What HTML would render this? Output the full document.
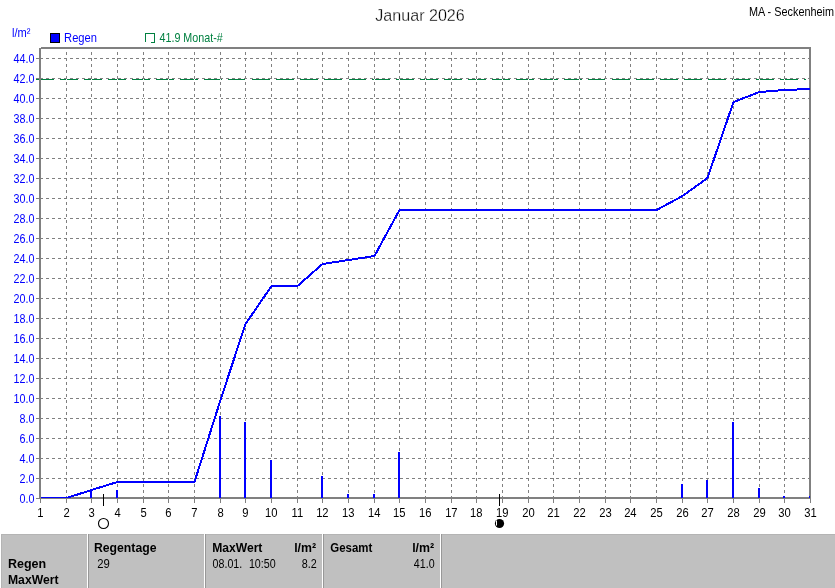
<!DOCTYPE html>
<html lang="de"><head><meta charset="utf-8"><title>Januar 2026 - Regen</title>
<style>
html,body{margin:0;padding:0;background:#fff;}
body{width:835px;height:588px;overflow:hidden;font-family:"Liberation Sans", sans-serif;}
svg text{white-space:pre;}
svg{will-change:transform;}
</style></head><body>
<svg width="835" height="588" viewBox="0 0 835 588" style="display:block">
<rect x="0" y="0" width="835" height="588" fill="#fff"/>
<g fill="#808080" shape-rendering="crispEdges">
<rect x="41" y="47" width="770" height="2"/>
<rect x="809" y="47" width="2" height="452"/>
<rect x="39" y="497" width="772" height="2"/>
</g>
<g stroke="#808080" stroke-width="1" stroke-dasharray="3 3" shape-rendering="crispEdges" fill="none">
<line x1="40" x2="809" y1="478.5" y2="478.5"/>
<line x1="40" x2="809" y1="458.5" y2="458.5"/>
<line x1="40" x2="809" y1="438.5" y2="438.5"/>
<line x1="40" x2="809" y1="418.5" y2="418.5"/>
<line x1="40" x2="809" y1="398.5" y2="398.5"/>
<line x1="40" x2="809" y1="378.5" y2="378.5"/>
<line x1="40" x2="809" y1="358.5" y2="358.5"/>
<line x1="40" x2="809" y1="338.5" y2="338.5"/>
<line x1="40" x2="809" y1="318.5" y2="318.5"/>
<line x1="40" x2="809" y1="298.5" y2="298.5"/>
<line x1="40" x2="809" y1="278.5" y2="278.5"/>
<line x1="40" x2="809" y1="258.5" y2="258.5"/>
<line x1="40" x2="809" y1="238.5" y2="238.5"/>
<line x1="40" x2="809" y1="218.5" y2="218.5"/>
<line x1="40" x2="809" y1="198.5" y2="198.5"/>
<line x1="40" x2="809" y1="178.5" y2="178.5"/>
<line x1="40" x2="809" y1="158.5" y2="158.5"/>
<line x1="40" x2="809" y1="138.5" y2="138.5"/>
<line x1="40" x2="809" y1="118.5" y2="118.5"/>
<line x1="40" x2="809" y1="98.5" y2="98.5"/>
<line x1="40" x2="809" y1="78.5" y2="78.5"/>
<line x1="40" x2="809" y1="58.5" y2="58.5"/>
</g>
<line x1="36" x2="806" y1="79.5" y2="79.5" stroke="#008040" stroke-width="1" stroke-dasharray="18 6" shape-rendering="crispEdges"/>
<g shape-rendering="crispEdges" fill="none" stroke-width="1">
<line x1="66.5" x2="66.5" y1="49" y2="497" stroke="#fff"/>
<line x1="66.5" x2="66.5" y1="52" y2="499" stroke="#808080" stroke-dasharray="3 3"/>
<line x1="91.5" x2="91.5" y1="49" y2="497" stroke="#fff"/>
<line x1="91.5" x2="91.5" y1="52" y2="499" stroke="#808080" stroke-dasharray="3 3"/>
<line x1="117.5" x2="117.5" y1="49" y2="497" stroke="#fff"/>
<line x1="117.5" x2="117.5" y1="52" y2="499" stroke="#808080" stroke-dasharray="3 3"/>
<line x1="143.5" x2="143.5" y1="49" y2="497" stroke="#fff"/>
<line x1="143.5" x2="143.5" y1="52" y2="499" stroke="#808080" stroke-dasharray="3 3"/>
<line x1="168.5" x2="168.5" y1="49" y2="497" stroke="#fff"/>
<line x1="168.5" x2="168.5" y1="52" y2="499" stroke="#808080" stroke-dasharray="3 3"/>
<line x1="194.5" x2="194.5" y1="49" y2="497" stroke="#fff"/>
<line x1="194.5" x2="194.5" y1="52" y2="499" stroke="#808080" stroke-dasharray="3 3"/>
<line x1="220.5" x2="220.5" y1="49" y2="497" stroke="#fff"/>
<line x1="220.5" x2="220.5" y1="52" y2="499" stroke="#808080" stroke-dasharray="3 3"/>
<line x1="245.5" x2="245.5" y1="49" y2="497" stroke="#fff"/>
<line x1="245.5" x2="245.5" y1="52" y2="499" stroke="#808080" stroke-dasharray="3 3"/>
<line x1="271.5" x2="271.5" y1="49" y2="497" stroke="#fff"/>
<line x1="271.5" x2="271.5" y1="52" y2="499" stroke="#808080" stroke-dasharray="3 3"/>
<line x1="297.5" x2="297.5" y1="49" y2="497" stroke="#fff"/>
<line x1="297.5" x2="297.5" y1="52" y2="499" stroke="#808080" stroke-dasharray="3 3"/>
<line x1="322.5" x2="322.5" y1="49" y2="497" stroke="#fff"/>
<line x1="322.5" x2="322.5" y1="52" y2="499" stroke="#808080" stroke-dasharray="3 3"/>
<line x1="348.5" x2="348.5" y1="49" y2="497" stroke="#fff"/>
<line x1="348.5" x2="348.5" y1="52" y2="499" stroke="#808080" stroke-dasharray="3 3"/>
<line x1="374.5" x2="374.5" y1="49" y2="497" stroke="#fff"/>
<line x1="374.5" x2="374.5" y1="52" y2="499" stroke="#808080" stroke-dasharray="3 3"/>
<line x1="399.5" x2="399.5" y1="49" y2="497" stroke="#fff"/>
<line x1="399.5" x2="399.5" y1="52" y2="499" stroke="#808080" stroke-dasharray="3 3"/>
<line x1="425.5" x2="425.5" y1="49" y2="497" stroke="#fff"/>
<line x1="425.5" x2="425.5" y1="52" y2="499" stroke="#808080" stroke-dasharray="3 3"/>
<line x1="451.5" x2="451.5" y1="49" y2="497" stroke="#fff"/>
<line x1="451.5" x2="451.5" y1="52" y2="499" stroke="#808080" stroke-dasharray="3 3"/>
<line x1="476.5" x2="476.5" y1="49" y2="497" stroke="#fff"/>
<line x1="476.5" x2="476.5" y1="52" y2="499" stroke="#808080" stroke-dasharray="3 3"/>
<line x1="502.5" x2="502.5" y1="49" y2="497" stroke="#fff"/>
<line x1="502.5" x2="502.5" y1="52" y2="499" stroke="#808080" stroke-dasharray="3 3"/>
<line x1="528.5" x2="528.5" y1="49" y2="497" stroke="#fff"/>
<line x1="528.5" x2="528.5" y1="52" y2="499" stroke="#808080" stroke-dasharray="3 3"/>
<line x1="553.5" x2="553.5" y1="49" y2="497" stroke="#fff"/>
<line x1="553.5" x2="553.5" y1="52" y2="499" stroke="#808080" stroke-dasharray="3 3"/>
<line x1="579.5" x2="579.5" y1="49" y2="497" stroke="#fff"/>
<line x1="579.5" x2="579.5" y1="52" y2="499" stroke="#808080" stroke-dasharray="3 3"/>
<line x1="605.5" x2="605.5" y1="49" y2="497" stroke="#fff"/>
<line x1="605.5" x2="605.5" y1="52" y2="499" stroke="#808080" stroke-dasharray="3 3"/>
<line x1="630.5" x2="630.5" y1="49" y2="497" stroke="#fff"/>
<line x1="630.5" x2="630.5" y1="52" y2="499" stroke="#808080" stroke-dasharray="3 3"/>
<line x1="656.5" x2="656.5" y1="49" y2="497" stroke="#fff"/>
<line x1="656.5" x2="656.5" y1="52" y2="499" stroke="#808080" stroke-dasharray="3 3"/>
<line x1="682.5" x2="682.5" y1="49" y2="497" stroke="#fff"/>
<line x1="682.5" x2="682.5" y1="52" y2="499" stroke="#808080" stroke-dasharray="3 3"/>
<line x1="707.5" x2="707.5" y1="49" y2="497" stroke="#fff"/>
<line x1="707.5" x2="707.5" y1="52" y2="499" stroke="#808080" stroke-dasharray="3 3"/>
<line x1="733.5" x2="733.5" y1="49" y2="497" stroke="#fff"/>
<line x1="733.5" x2="733.5" y1="52" y2="499" stroke="#808080" stroke-dasharray="3 3"/>
<line x1="759.5" x2="759.5" y1="49" y2="497" stroke="#fff"/>
<line x1="759.5" x2="759.5" y1="52" y2="499" stroke="#808080" stroke-dasharray="3 3"/>
<line x1="784.5" x2="784.5" y1="49" y2="497" stroke="#fff"/>
<line x1="784.5" x2="784.5" y1="52" y2="499" stroke="#808080" stroke-dasharray="3 3"/>
</g>
<g stroke="#0000ff" stroke-width="2" shape-rendering="crispEdges">
<line x1="91" x2="91" y1="490" y2="498"/>
<line x1="117" x2="117" y1="490" y2="498"/>
<line x1="220" x2="220" y1="416" y2="498"/>
<line x1="245" x2="245" y1="422" y2="498"/>
<line x1="271" x2="271" y1="460" y2="498"/>
<line x1="322" x2="322" y1="476" y2="498"/>
<line x1="348" x2="348" y1="494" y2="498"/>
<line x1="374" x2="374" y1="494" y2="498"/>
<line x1="399" x2="399" y1="452" y2="498"/>
<line x1="682" x2="682" y1="484" y2="498"/>
<line x1="707" x2="707" y1="480" y2="498"/>
<line x1="733" x2="733" y1="422" y2="498"/>
<line x1="759" x2="759" y1="488" y2="498"/>
<line x1="784" x2="784" y1="496" y2="498"/>
<line x1="810" x2="810" y1="496" y2="498"/>
</g>
<polyline points="40.5,498 66.5,498 91.5,490 117.5,482 143.5,482 168.5,482 194.5,482 220.5,400 245.5,324 271.5,286 297.5,286 322.5,264 348.5,260 374.5,256 399.5,210 425.5,210 451.5,210 476.5,210 502.5,210 528.5,210 553.5,210 579.5,210 605.5,210 630.5,210 656.5,210 682.5,196 707.5,178 733.5,102 759.5,92 784.5,90 810.5,89" fill="none" stroke="#0000ff" stroke-width="2" shape-rendering="crispEdges" stroke-linejoin="round"/>
<g fill="#808080" shape-rendering="crispEdges">
<rect x="39" y="48" width="2" height="451"/>
<rect x="810" y="47" width="1" height="452"/>
<rect x="36" y="498" width="775" height="1"/>
<rect x="36" y="478" width="3" height="1"/>
<rect x="36" y="458" width="3" height="1"/>
<rect x="36" y="438" width="3" height="1"/>
<rect x="36" y="418" width="3" height="1"/>
<rect x="36" y="398" width="3" height="1"/>
<rect x="36" y="378" width="3" height="1"/>
<rect x="36" y="358" width="3" height="1"/>
<rect x="36" y="338" width="3" height="1"/>
<rect x="36" y="318" width="3" height="1"/>
<rect x="36" y="298" width="3" height="1"/>
<rect x="36" y="278" width="3" height="1"/>
<rect x="36" y="258" width="3" height="1"/>
<rect x="36" y="238" width="3" height="1"/>
<rect x="36" y="218" width="3" height="1"/>
<rect x="36" y="198" width="3" height="1"/>
<rect x="36" y="178" width="3" height="1"/>
<rect x="36" y="158" width="3" height="1"/>
<rect x="36" y="138" width="3" height="1"/>
<rect x="36" y="118" width="3" height="1"/>
<rect x="36" y="98" width="3" height="1"/>
<rect x="36" y="78" width="3" height="1"/>
<rect x="36" y="58" width="3" height="1"/>
<rect x="40" y="499" width="1" height="4"/>
<rect x="66" y="499" width="1" height="4"/>
<rect x="91" y="499" width="1" height="4"/>
<rect x="117" y="499" width="1" height="4"/>
<rect x="143" y="499" width="1" height="4"/>
<rect x="168" y="499" width="1" height="4"/>
<rect x="194" y="499" width="1" height="4"/>
<rect x="220" y="499" width="1" height="4"/>
<rect x="245" y="499" width="1" height="4"/>
<rect x="271" y="499" width="1" height="4"/>
<rect x="297" y="499" width="1" height="4"/>
<rect x="322" y="499" width="1" height="4"/>
<rect x="348" y="499" width="1" height="4"/>
<rect x="374" y="499" width="1" height="4"/>
<rect x="399" y="499" width="1" height="4"/>
<rect x="425" y="499" width="1" height="4"/>
<rect x="451" y="499" width="1" height="4"/>
<rect x="476" y="499" width="1" height="4"/>
<rect x="502" y="499" width="1" height="4"/>
<rect x="528" y="499" width="1" height="4"/>
<rect x="553" y="499" width="1" height="4"/>
<rect x="579" y="499" width="1" height="4"/>
<rect x="605" y="499" width="1" height="4"/>
<rect x="630" y="499" width="1" height="4"/>
<rect x="656" y="499" width="1" height="4"/>
<rect x="682" y="499" width="1" height="4"/>
<rect x="707" y="499" width="1" height="4"/>
<rect x="733" y="499" width="1" height="4"/>
<rect x="759" y="499" width="1" height="4"/>
<rect x="784" y="499" width="1" height="4"/>
<rect x="810" y="499" width="1" height="4"/>
</g>
<text transform="translate(19.53,503) scale(0.8284,1)" font-family='"Liberation Sans", sans-serif' font-size="13" fill="#0000ff" font-weight="normal">0.0</text>
<text transform="translate(19.53,483) scale(0.8284,1)" font-family='"Liberation Sans", sans-serif' font-size="13" fill="#0000ff" font-weight="normal">2.0</text>
<text transform="translate(19.53,463) scale(0.8284,1)" font-family='"Liberation Sans", sans-serif' font-size="13" fill="#0000ff" font-weight="normal">4.0</text>
<text transform="translate(19.53,443) scale(0.8284,1)" font-family='"Liberation Sans", sans-serif' font-size="13" fill="#0000ff" font-weight="normal">6.0</text>
<text transform="translate(19.53,423) scale(0.8284,1)" font-family='"Liberation Sans", sans-serif' font-size="13" fill="#0000ff" font-weight="normal">8.0</text>
<text transform="translate(13.56,403) scale(0.8284,1)" font-family='"Liberation Sans", sans-serif' font-size="13" fill="#0000ff" font-weight="normal">10.0</text>
<text transform="translate(13.56,383) scale(0.8284,1)" font-family='"Liberation Sans", sans-serif' font-size="13" fill="#0000ff" font-weight="normal">12.0</text>
<text transform="translate(13.56,363) scale(0.8284,1)" font-family='"Liberation Sans", sans-serif' font-size="13" fill="#0000ff" font-weight="normal">14.0</text>
<text transform="translate(13.56,343) scale(0.8284,1)" font-family='"Liberation Sans", sans-serif' font-size="13" fill="#0000ff" font-weight="normal">16.0</text>
<text transform="translate(13.56,323) scale(0.8284,1)" font-family='"Liberation Sans", sans-serif' font-size="13" fill="#0000ff" font-weight="normal">18.0</text>
<text transform="translate(13.56,303) scale(0.8284,1)" font-family='"Liberation Sans", sans-serif' font-size="13" fill="#0000ff" font-weight="normal">20.0</text>
<text transform="translate(13.56,283) scale(0.8284,1)" font-family='"Liberation Sans", sans-serif' font-size="13" fill="#0000ff" font-weight="normal">22.0</text>
<text transform="translate(13.56,263) scale(0.8284,1)" font-family='"Liberation Sans", sans-serif' font-size="13" fill="#0000ff" font-weight="normal">24.0</text>
<text transform="translate(13.56,243) scale(0.8284,1)" font-family='"Liberation Sans", sans-serif' font-size="13" fill="#0000ff" font-weight="normal">26.0</text>
<text transform="translate(13.56,223) scale(0.8284,1)" font-family='"Liberation Sans", sans-serif' font-size="13" fill="#0000ff" font-weight="normal">28.0</text>
<text transform="translate(13.56,203) scale(0.8284,1)" font-family='"Liberation Sans", sans-serif' font-size="13" fill="#0000ff" font-weight="normal">30.0</text>
<text transform="translate(13.56,183) scale(0.8284,1)" font-family='"Liberation Sans", sans-serif' font-size="13" fill="#0000ff" font-weight="normal">32.0</text>
<text transform="translate(13.56,163) scale(0.8284,1)" font-family='"Liberation Sans", sans-serif' font-size="13" fill="#0000ff" font-weight="normal">34.0</text>
<text transform="translate(13.56,143) scale(0.8284,1)" font-family='"Liberation Sans", sans-serif' font-size="13" fill="#0000ff" font-weight="normal">36.0</text>
<text transform="translate(13.56,123) scale(0.8284,1)" font-family='"Liberation Sans", sans-serif' font-size="13" fill="#0000ff" font-weight="normal">38.0</text>
<text transform="translate(13.56,103) scale(0.8284,1)" font-family='"Liberation Sans", sans-serif' font-size="13" fill="#0000ff" font-weight="normal">40.0</text>
<text transform="translate(13.56,83) scale(0.8284,1)" font-family='"Liberation Sans", sans-serif' font-size="13" fill="#0000ff" font-weight="normal">42.0</text>
<text transform="translate(13.56,63) scale(0.8284,1)" font-family='"Liberation Sans", sans-serif' font-size="13" fill="#0000ff" font-weight="normal">44.0</text>
<text transform="translate(37.23,517) scale(0.8637,1)" font-family='"Liberation Sans", sans-serif' font-size="13" fill="#000" font-weight="normal">1</text>
<text transform="translate(63.38,517) scale(0.8637,1)" font-family='"Liberation Sans", sans-serif' font-size="13" fill="#000" font-weight="normal">2</text>
<text transform="translate(88.41,517) scale(0.8637,1)" font-family='"Liberation Sans", sans-serif' font-size="13" fill="#000" font-weight="normal">3</text>
<text transform="translate(114.41,517) scale(0.8637,1)" font-family='"Liberation Sans", sans-serif' font-size="13" fill="#000" font-weight="normal">4</text>
<text transform="translate(140.38,517) scale(0.8637,1)" font-family='"Liberation Sans", sans-serif' font-size="13" fill="#000" font-weight="normal">5</text>
<text transform="translate(165.34,517) scale(0.8637,1)" font-family='"Liberation Sans", sans-serif' font-size="13" fill="#000" font-weight="normal">6</text>
<text transform="translate(191.37,517) scale(0.8637,1)" font-family='"Liberation Sans", sans-serif' font-size="13" fill="#000" font-weight="normal">7</text>
<text transform="translate(217.38,517) scale(0.8637,1)" font-family='"Liberation Sans", sans-serif' font-size="13" fill="#000" font-weight="normal">8</text>
<text transform="translate(242.37,517) scale(0.8637,1)" font-family='"Liberation Sans", sans-serif' font-size="13" fill="#000" font-weight="normal">9</text>
<text transform="translate(265.06,517) scale(0.8637,1)" font-family='"Liberation Sans", sans-serif' font-size="13" fill="#000" font-weight="normal">10</text>
<text transform="translate(291.52,517) scale(0.8637,1)" font-family='"Liberation Sans", sans-serif' font-size="13" fill="#000" font-weight="normal">11</text>
<text transform="translate(316.13,517) scale(0.8637,1)" font-family='"Liberation Sans", sans-serif' font-size="13" fill="#000" font-weight="normal">12</text>
<text transform="translate(342.09,517) scale(0.8637,1)" font-family='"Liberation Sans", sans-serif' font-size="13" fill="#000" font-weight="normal">13</text>
<text transform="translate(368.00,517) scale(0.8637,1)" font-family='"Liberation Sans", sans-serif' font-size="13" fill="#000" font-weight="normal">14</text>
<text transform="translate(393.07,517) scale(0.8637,1)" font-family='"Liberation Sans", sans-serif' font-size="13" fill="#000" font-weight="normal">15</text>
<text transform="translate(419.09,517) scale(0.8637,1)" font-family='"Liberation Sans", sans-serif' font-size="13" fill="#000" font-weight="normal">16</text>
<text transform="translate(445.13,517) scale(0.8637,1)" font-family='"Liberation Sans", sans-serif' font-size="13" fill="#000" font-weight="normal">17</text>
<text transform="translate(470.09,517) scale(0.8637,1)" font-family='"Liberation Sans", sans-serif' font-size="13" fill="#000" font-weight="normal">18</text>
<text transform="translate(496.10,517) scale(0.8637,1)" font-family='"Liberation Sans", sans-serif' font-size="13" fill="#000" font-weight="normal">19</text>
<text transform="translate(522.20,517) scale(0.8637,1)" font-family='"Liberation Sans", sans-serif' font-size="13" fill="#000" font-weight="normal">20</text>
<text transform="translate(547.25,517) scale(0.8637,1)" font-family='"Liberation Sans", sans-serif' font-size="13" fill="#000" font-weight="normal">21</text>
<text transform="translate(573.27,517) scale(0.8637,1)" font-family='"Liberation Sans", sans-serif' font-size="13" fill="#000" font-weight="normal">22</text>
<text transform="translate(599.23,517) scale(0.8637,1)" font-family='"Liberation Sans", sans-serif' font-size="13" fill="#000" font-weight="normal">23</text>
<text transform="translate(624.14,517) scale(0.8637,1)" font-family='"Liberation Sans", sans-serif' font-size="13" fill="#000" font-weight="normal">24</text>
<text transform="translate(650.21,517) scale(0.8637,1)" font-family='"Liberation Sans", sans-serif' font-size="13" fill="#000" font-weight="normal">25</text>
<text transform="translate(676.23,517) scale(0.8637,1)" font-family='"Liberation Sans", sans-serif' font-size="13" fill="#000" font-weight="normal">26</text>
<text transform="translate(701.27,517) scale(0.8637,1)" font-family='"Liberation Sans", sans-serif' font-size="13" fill="#000" font-weight="normal">27</text>
<text transform="translate(727.23,517) scale(0.8637,1)" font-family='"Liberation Sans", sans-serif' font-size="13" fill="#000" font-weight="normal">28</text>
<text transform="translate(753.24,517) scale(0.8637,1)" font-family='"Liberation Sans", sans-serif' font-size="13" fill="#000" font-weight="normal">29</text>
<text transform="translate(778.27,517) scale(0.8637,1)" font-family='"Liberation Sans", sans-serif' font-size="13" fill="#000" font-weight="normal">30</text>
<text transform="translate(804.32,517) scale(0.8637,1)" font-family='"Liberation Sans", sans-serif' font-size="13" fill="#000" font-weight="normal">31</text>
<text transform="translate(11.95,37) scale(0.8569,1)" font-family='"Liberation Sans", sans-serif' font-size="13" fill="#0000ff" font-weight="normal">l/m²</text>
<rect x="50.5" y="33.5" width="9" height="9" fill="#0000ff" stroke="#000" shape-rendering="crispEdges"/>
<text transform="translate(64.08,42) scale(0.8607,1)" font-family='"Liberation Sans", sans-serif' font-size="13" fill="#0000ff" font-weight="normal">Regen</text>
<path d="M145.5 42V33.5H154.5V42.5H151" fill="none" stroke="#008040" shape-rendering="crispEdges"/>
<text transform="translate(159.46,42) scale(0.8272,1)" font-family='"Liberation Sans", sans-serif' font-size="13" fill="#008040" font-weight="normal">41.9 Monat-#</text>
<text transform="translate(375.26,21) scale(0.9482,1)" font-family='"Liberation Sans", sans-serif' font-size="17" fill="#000" font-weight="normal" stroke="#fff" stroke-width="0.3">Januar 2026</text>
<text transform="translate(748.90,16) scale(0.8365,1)" font-family='"Liberation Sans", sans-serif' font-size="13" fill="#000" font-weight="normal">MA - Seckenheim</text>
<rect x="103" y="494" width="1" height="12" fill="#000" shape-rendering="crispEdges"/>
<circle cx="103.5" cy="523.5" r="5" fill="#fff" stroke="#000" stroke-width="1.1"/>
<rect x="499" y="494" width="1" height="12" fill="#000" shape-rendering="crispEdges"/>
<circle cx="499.5" cy="523.5" r="4.6" fill="#000"/>
<rect x="496" y="520.5" width="1" height="5" fill="#fff"/>
<rect x="1" y="534" width="834" height="54" fill="#c0c0c0"/>
<rect x="1" y="534" width="834" height="1" fill="#b4b4b4"/>
<rect x="1" y="534" width="1" height="54" fill="#b4b4b4"/>
<rect x="87" y="534" width="1" height="54" fill="#fff" shape-rendering="crispEdges"/>
<rect x="88" y="534" width="1" height="54" fill="#989898" shape-rendering="crispEdges"/>
<rect x="204" y="534" width="1" height="54" fill="#fff" shape-rendering="crispEdges"/>
<rect x="205" y="534" width="1" height="54" fill="#989898" shape-rendering="crispEdges"/>
<rect x="322" y="534" width="1" height="54" fill="#fff" shape-rendering="crispEdges"/>
<rect x="323" y="534" width="1" height="54" fill="#989898" shape-rendering="crispEdges"/>
<rect x="440" y="534" width="1" height="54" fill="#fff" shape-rendering="crispEdges"/>
<rect x="441" y="534" width="1" height="54" fill="#989898" shape-rendering="crispEdges"/>
<text transform="translate(7.96,568) scale(0.9617,1)" font-family='"Liberation Sans", sans-serif' font-size="13" fill="#000" font-weight="bold">Regen</text>
<text transform="translate(7.98,584) scale(0.9374,1)" font-family='"Liberation Sans", sans-serif' font-size="13" fill="#000" font-weight="bold">MaxWert</text>
<text transform="translate(93.97,552) scale(0.9407,1)" font-family='"Liberation Sans", sans-serif' font-size="13" fill="#000" font-weight="bold">Regentage</text>
<text transform="translate(97.13,568) scale(0.8715,1)" font-family='"Liberation Sans", sans-serif' font-size="13" fill="#000" font-weight="normal">29</text>
<text transform="translate(212.18,552) scale(0.9318,1)" font-family='"Liberation Sans", sans-serif' font-size="13" fill="#000" font-weight="bold">MaxWert</text>
<text transform="translate(294.14,552) scale(0.9481,1)" font-family='"Liberation Sans", sans-serif' font-size="13" fill="#000" font-weight="bold">l/m²</text>
<text transform="translate(212.57,568) scale(0.8215,1)" font-family='"Liberation Sans", sans-serif' font-size="13" fill="#000" font-weight="normal">08.01.</text>
<text transform="translate(248.90,568) scale(0.8239,1)" font-family='"Liberation Sans", sans-serif' font-size="13" fill="#000" font-weight="normal">10:50</text>
<text transform="translate(301.64,568) scale(0.8300,1)" font-family='"Liberation Sans", sans-serif' font-size="13" fill="#000" font-weight="normal">8.2</text>
<text transform="translate(330.24,552) scale(0.8809,1)" font-family='"Liberation Sans", sans-serif' font-size="13" fill="#000" font-weight="bold">Gesamt</text>
<text transform="translate(412.13,552) scale(0.9527,1)" font-family='"Liberation Sans", sans-serif' font-size="13" fill="#000" font-weight="bold">l/m²</text>
<text transform="translate(413.86,568) scale(0.8202,1)" font-family='"Liberation Sans", sans-serif' font-size="13" fill="#000" font-weight="normal">41.0</text>
</svg>
</body></html>
